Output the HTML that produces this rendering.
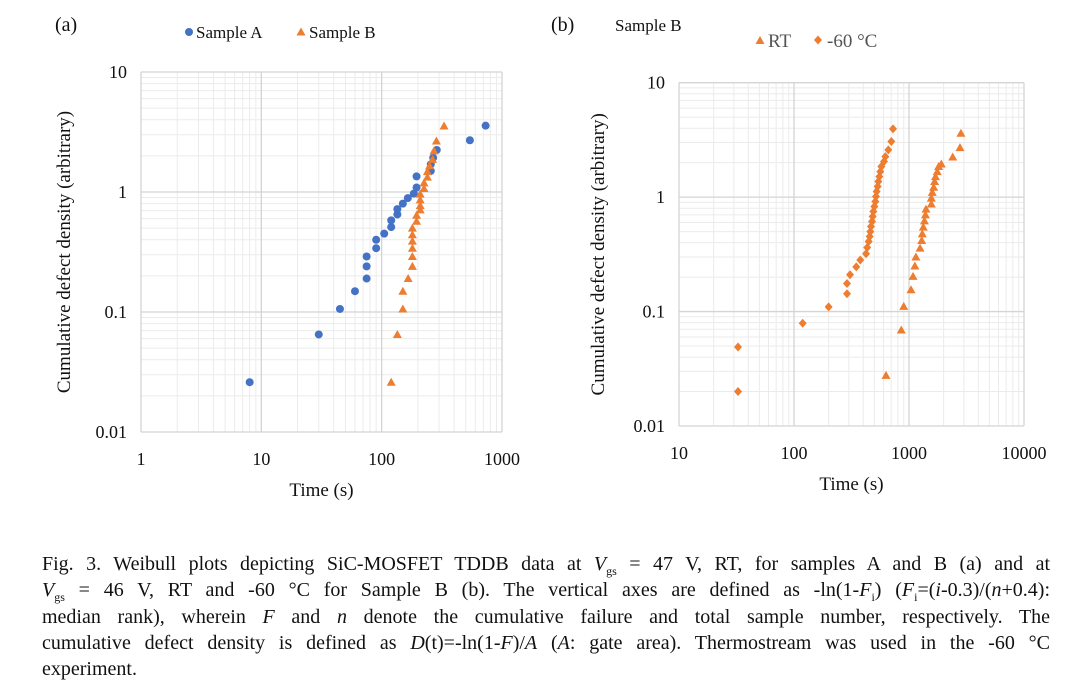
<!DOCTYPE html>
<html><head><meta charset="utf-8">
<style>
body{margin:0;background:#fff;width:1080px;height:691px;overflow:hidden;font-family:"Liberation Serif",serif;}
svg{position:absolute;left:0;top:0}
#cap{position:absolute;left:42px;top:551px;width:1008px;font-size:20px;line-height:26.3px;color:#111}
#cap div{text-align:justify;text-align-last:justify;height:26.3px;overflow:visible}
#cap div.last{text-align-last:left}
sub{font-size:12px;line-height:0}
</style></head><body>
<svg id="svg" width="1080" height="691"></svg>
<div id="cap">
<div>Fig. 3. Weibull plots depicting SiC-MOSFET TDDB data at <i>V</i><sub>gs</sub> = 47 V, RT, for samples A and B (a) and at</div>
<div><i>V</i><sub>gs</sub> = 46 V, RT and -60 °C for Sample B (b). The vertical axes are defined as -ln(1-<i>F</i><sub>i</sub>) (<i>F</i><sub>i</sub>=(<i>i</i>-0.3)/(<i>n</i>+0.4):</div>
<div>median rank), wherein <i>F</i> and <i>n</i> denote the cumulative failure and total sample number, respectively. The</div>
<div>cumulative defect density is defined as <i>D</i>(t)=-ln(1-<i>F</i>)/<i>A</i> (<i>A</i>: gate area). Thermostream was used in the -60 °C</div>
<div class="last">experiment.</div>
</div>
<script>
const aTimeA=[8,30,45,60,75,75,75,90,90,105,120,120,135,135,150,165,185,195,195,256,256,268,287,541,731];
const aDensA=[0.026,0.065,0.106,0.149,0.19,0.24,0.29,0.34,0.40,0.45,0.51,0.58,0.65,0.72,0.80,0.89,0.97,1.09,1.35,1.5,1.7,1.93,2.24,2.7,3.57];
const aTimeB=[120,135,150,150,166,180,180,180,180,180,180,195,195,209,209,209,209,225,225,240,240,250,265,272,285,330];
const aDensB=[0.026,0.065,0.106,0.149,0.19,0.24,0.29,0.34,0.39,0.44,0.50,0.57,0.64,0.71,0.77,0.86,0.96,1.07,1.19,1.33,1.48,1.65,1.87,2.2,2.66,3.55];
const bTimeRT=[631,857,900,1041,1084,1125,1148,1248,1290,1305,1332,1362,1390,1405,1563,1563,1593,1640,1670,1700,1760,1810,1910,2400,2775,2830];
const bDensRT=[0.0277,0.069,0.111,0.155,0.203,0.25,0.30,0.358,0.418,0.478,0.547,0.62,0.70,0.786,0.87,0.98,1.1,1.22,1.37,1.51,1.67,1.85,1.95,2.24,2.71,3.62];
const bTimeCold=[32.6,32.6,119,200,289,289,307,348,377,423,433,446,455,461,467,477,483,490,500,510,516,523,534,541,552,563,575,606,623,661,702,726];
const bDensCold=[0.049,0.020,0.079,0.11,0.143,0.176,0.21,0.246,0.282,0.32,0.363,0.41,0.453,0.50,0.554,0.612,0.677,0.749,0.828,0.916,1.013,1.12,1.24,1.37,1.51,1.67,1.85,2.05,2.26,2.59,3.06,3.95];
const xTicksA=["1","10","100","1000"], yTicks=["0.01","0.1","1","10"], xTicksB=["10","100","1000","10000"];
const NS="http://www.w3.org/2000/svg", svg=document.getElementById('svg');
function el(t,a,p){const e=document.createElementNS(NS,t);for(const k in a)e.setAttribute(k,a[k]);(p||svg).appendChild(e);return e;}
function txt(s,a,p){const e=el('text',Object.assign({'font-family':'Liberation Serif, serif','font-size':19,fill:'#111'},a),p);e.textContent=s;return e;}
function chart(o){
  const g=el('g',{});
  
  
  const lx0=Math.log10(o.xmin),lx1=Math.log10(o.xmax),ly0=Math.log10(o.ymin),ly1=Math.log10(o.ymax);
  const X=v=>o.x0+(Math.log10(v)-lx0)/(lx1-lx0)*(o.x1-o.x0);
  const Y=v=>o.y1-(Math.log10(v)-ly0)/(ly1-ly0)*(o.y1-o.y0);
  for(let d=lx0;d<lx1;d++)for(let m=2;m<10;m++){const x=X(m*Math.pow(10,d));el('line',{x1:x,x2:x,y1:o.y0,y2:o.y1,stroke:'#ebebeb','stroke-width':1},g);}
  for(let d=ly0;d<ly1;d++)for(let m=2;m<10;m++){const y=Y(m*Math.pow(10,d));el('line',{x1:o.x0,x2:o.x1,y1:y,y2:y,stroke:'#ebebeb','stroke-width':1},g);}
  for(let d=lx0;d<=lx1;d++){const x=X(Math.pow(10,d));el('line',{x1:x,x2:x,y1:o.y0,y2:o.y1,stroke:'#d4d4d4','stroke-width':1.3},g);}
  for(let d=ly0;d<=ly1;d++){const y=Y(Math.pow(10,d));el('line',{x1:o.x0,x2:o.x1,y1:y,y2:y,stroke:'#d4d4d4','stroke-width':1.3},g);}
  o.xt.forEach(s=>{const t=txt(s,{x:X(+s),y:o.y1+33,'text-anchor':'middle','font-size':18},g);});
  yTicks.forEach(s=>{const t=txt(s,{x:o.x0-14,y:Y(+s)+6,'text-anchor':'end','font-size':18},g);});
  const xt=txt('Time (s)',{x:(o.x0+o.x1)/2,y:o.y1+64,'text-anchor':'middle','font-size':19},g);
  
  const yt=txt('Cumulative defect density (arbitrary)',{x:0,y:0,'text-anchor':'middle','font-size':19,transform:`translate(${o.ytx},${(o.y0+o.y1)/2}) rotate(-90)`},g);
  
  o.series.forEach(s=>{
    const sg=el('g',{fill:s.c},g);
    
    
    s.xs.forEach((v,i)=>{const x=X(v),y=Y(s.ys[i]);let m;
      if(s.sh==='c')m=el('circle',{cx:x,cy:y,r:4},sg);
      else if(s.sh==='t')m=el('polygon',{points:`${x},${y-4.5} ${x+4.5},${y+3.5} ${x-4.5},${y+3.5}`},sg);
      else m=el('polygon',{points:`${x},${y-4.5} ${x+4},${y} ${x},${y+4.5} ${x-4},${y}`},sg);
      });
  });
}
const blue='#4472C4',orange='#ED7D31';
chart({name:'chart-a',x0:141,x1:502,y0:72,y1:432,xmin:1,xmax:1000,ymin:0.01,ymax:10,xt:xTicksA,ytx:70,
  series:[{name:'series-sample-a',xs:aTimeA,ys:aDensA,c:blue,sh:'c'},{name:'series-sample-b',xs:aTimeB,ys:aDensB,c:orange,sh:'t'}]});
chart({name:'chart-b',x0:679,x1:1024,y0:82.7,y1:426,xmin:10,xmax:10000,ymin:0.01,ymax:10,xt:xTicksB,ytx:604,
  series:[{name:'series-rt',xs:bTimeRT,ys:bDensRT,c:orange,sh:'t'},{name:'series-minus60',xs:bTimeCold,ys:bDensCold,c:orange,sh:'d'}]});
let t;
t=txt('(a)',{x:55,y:31,'font-size':20});
t=txt('(b)',{x:551,y:31,'font-size':20});
t=txt('Sample B',{x:615,y:31,'font-size':17});
let lg=el('g',{});
el('circle',{cx:189,cy:32,r:4,fill:blue},lg);
t=txt('Sample A',{x:196,y:38,'font-size':17},lg);
el('polygon',{points:'301,27.5 305.5,35.5 296.5,35.5',fill:orange},lg);
t=txt('Sample B',{x:309,y:38,'font-size':17},lg);
lg=el('g',{});
el('polygon',{points:'760,36 764.5,44 755.5,44',fill:orange},lg);
t=txt('RT',{x:768,y:47,'font-size':19,fill:'#555'},lg);
el('polygon',{points:'818,35.5 822,40 818,44.5 814,40',fill:orange},lg);
t=txt('-60 °C',{x:827,y:47,'font-size':19,fill:'#555'},lg);
</script>
</body></html>
